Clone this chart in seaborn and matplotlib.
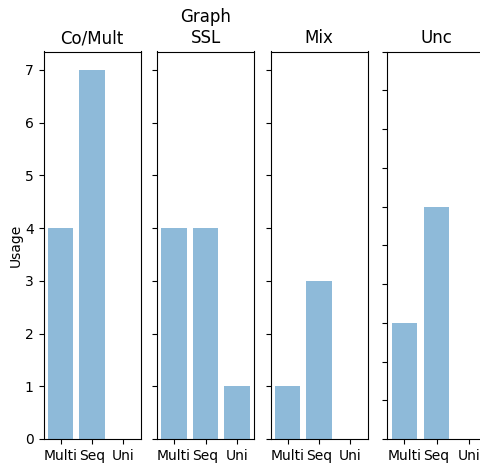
import matplotlib
matplotlib.use("Agg")
import matplotlib.pyplot as plt
import seaborn as sns
import pandas as pd

# Dados
categorias = ["Multi", "Seq", "Uni"]
titulos = ["Co/Mult", "Graph\nSSL", "Mix", "Unc"]
uso_comult = [4, 7, 0]
uso_graph_ssl = [4, 4, 1]
uso_mix = [1, 3, 0]
uso_unc = [3, 6, 0]

series = [uso_comult, uso_graph_ssl, uso_mix, uso_unc]

fig = plt.figure(figsize=(4.8, 4.63), dpi=100)

W, H = 480, 463
lefts = [43.5, 157, 270.5, 387]
larguras = [97, 97, 97, 99]
base, topo = 439, 51.5

eixos = []
for i, (titulo, valores) in enumerate(zip(titulos, series)):
    ax = fig.add_axes([lefts[i] / W, (H - base) / H, larguras[i] / W, (base - topo) / H])
    df = pd.DataFrame({"cat": categorias, "valor": valores})
    sns.barplot(data=df, x="cat", y="valor", color="#1f77b4", alpha=0.5,
                saturation=1, width=0.8, ax=ax)
    ax.set_xlim(-0.54, 2.54)
    ax.set_title(titulo, fontsize=12)
    ax.set_xlabel("")
    ax.set_ylabel("")
    if i < 3:
        ax.set_ylim(0, 7.35)
        ax.set_yticks(range(0, 8))
    else:
        ax.set_ylim(0, 10)
        ax.set_yticks(range(0, 11))
    if i > 0:
        ax.set_yticklabels([])
    eixos.append(ax)

eixos[0].set_ylabel("Usage", fontsize=10, labelpad=1.5)

fig.savefig("out.png", dpi=100)
plt.close(fig)
